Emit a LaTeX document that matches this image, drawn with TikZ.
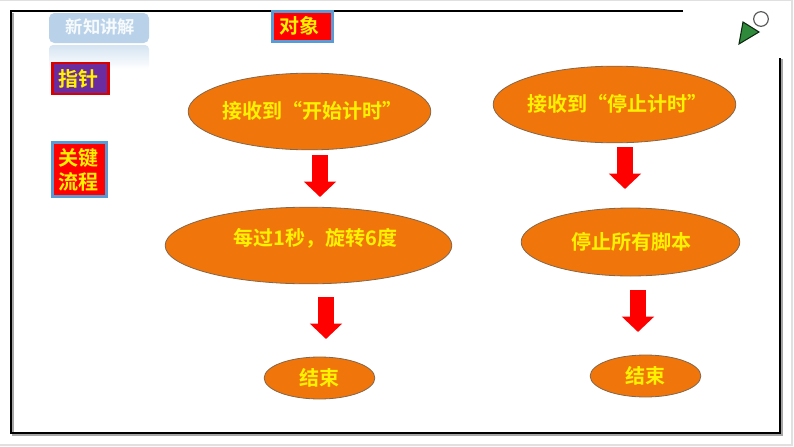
\documentclass[tikz,border=0pt]{standalone}
\usepackage{fontspec}
\setmainfont{Noto Sans CJK SC}[BoldFont={* Bold}]
\usetikzlibrary{arrows.meta,shapes.geometric}
\definecolor{orangeE}{HTML}{F0760B}
\definecolor{blueB}{HTML}{5B9BD5}
\definecolor{tabC}{HTML}{B9D2E9}
\definecolor{purpleP}{HTML}{6A2C9E}
\definecolor{greenT}{HTML}{2F8A3C}
\definecolor{edgeE}{HTML}{85664A}
\tikzset{
  flowell/.style={ellipse,draw=edgeE,line width=0.6pt,fill=orangeE,inner sep=0pt,minimum width=#1},
  flowtext/.style={font=\bfseries\fontsize{15}{18}\selectfont,text=yellow,inner sep=0pt},
  tagtext/.style={font=\bfseries\fontsize{15}{18.5}\selectfont,text=yellow,inner sep=0pt,align=center},
  tagbox/.style={draw=blueB,line width=1.6pt,fill=red,inner sep=0pt},
  blockarrow/.style={line width=12pt,red,-{Triangle[length=11.5pt,width=23.5pt]}}
}
\begin{document}
\begin{tikzpicture}[x=0.75pt,y=-0.75pt]
\useasboundingbox (0,0) rectangle (794,447);
\fill[white] (0,0) rectangle (794,447);
% page edge
\draw[black!12,line width=0.8pt] (0,0.5) -- (792,0.5) -- (792,445) -- (0,445);
% frame
\draw[black!35,line width=1.5pt] (12.5,12.5) -- (12.5,434.5) -- (781.5,434.5) -- (781.5,59);
\draw[black,line width=1.5pt] (683,11) -- (11,11) -- (11,433) -- (780,433) -- (780,58);
% tab
\shade[top color=tabC!60,bottom color=white,rounded corners=3pt] (49,45) rectangle (149,69);
\node[rectangle,rounded corners=4pt,fill=tabC,minimum width=75pt,minimum height=22.5pt,inner sep=0pt] (tab) at (99,28) {};
\node[font=\bfseries\fontsize{13}{15}\selectfont,text=white!88!tabC,inner sep=0pt] (tabt) at (100.5,27) {新知讲解};
% tags
\node[tagbox,minimum width=45pt,minimum height=22.5pt] (objbox) at (302.5,26.5) {};
\node[tagtext] (objt) at (299,26) {对象};
\node[draw=red!85!black,line width=1.6pt,fill=purpleP,inner sep=0pt,minimum width=42pt,minimum height=23pt] (ptrbox) at (80.5,78.5) {};
\node[tagtext] (ptrt) at (78.5,78.5) {指针};
\node[tagbox,minimum width=40.5pt,minimum height=40.5pt] (keybox) at (79.5,169.5) {};
\node[tagtext] (keyt) at (79,170) {关键\\流程};
% ellipses
\node[flowell=182pt,minimum height=57.5pt] (e1) at (309.5,111.5) {};
\node[flowell=182pt,minimum height=57.5pt] (e2) at (614.5,104.5) {};
\node[flowell=215pt,minimum height=57.5pt] (e3) at (308.5,245.5) {};
\node[flowell=164pt,minimum height=51pt] (e4) at (630.5,242) {};
\node[flowell=83pt,minimum height=31.5pt] (e5) at (319.5,378) {};
\node[flowell=83pt,minimum height=31.5pt] (e6) at (645.5,376) {};
% texts
\node[flowtext] (t1) at (312,111) {接收到“开始计时”};
\node[flowtext] (t2) at (617,104) {接收到“停止计时”};
\node[flowtext] (t3) at (315.5,238) {每过1秒，旋转6度};
\node[flowtext] (t4) at (631,242) {停止所有脚本};
\node[flowtext] (t5) at (319.5,378) {结束};
\node[flowtext] (t6) at (645.5,376) {结束};
% block arrows
\coordinate (a1) at (320,155); \coordinate (b1) at (320,197);
\coordinate (a2) at (625,147); \coordinate (b2) at (625,189);
\coordinate (a3) at (326,297); \coordinate (b3) at (326,339);
\coordinate (a4) at (638,290); \coordinate (b4) at (638,332);
\draw[blockarrow] (a1) -- (b1);
\draw[blockarrow] (a2) -- (b2);
\draw[blockarrow] (a3) -- (b3);
\draw[blockarrow] (a4) -- (b4);
% corner mark
\draw[fill=greenT,draw=black!70!greenT,line width=0.8pt,line join=miter] (739,44) -- (743,22) -- (759,32) -- cycle;
\draw[fill=white,draw=black!65,line width=0.9pt] (761,19) circle[radius=5.5pt];
\end{tikzpicture}
\end{document}
